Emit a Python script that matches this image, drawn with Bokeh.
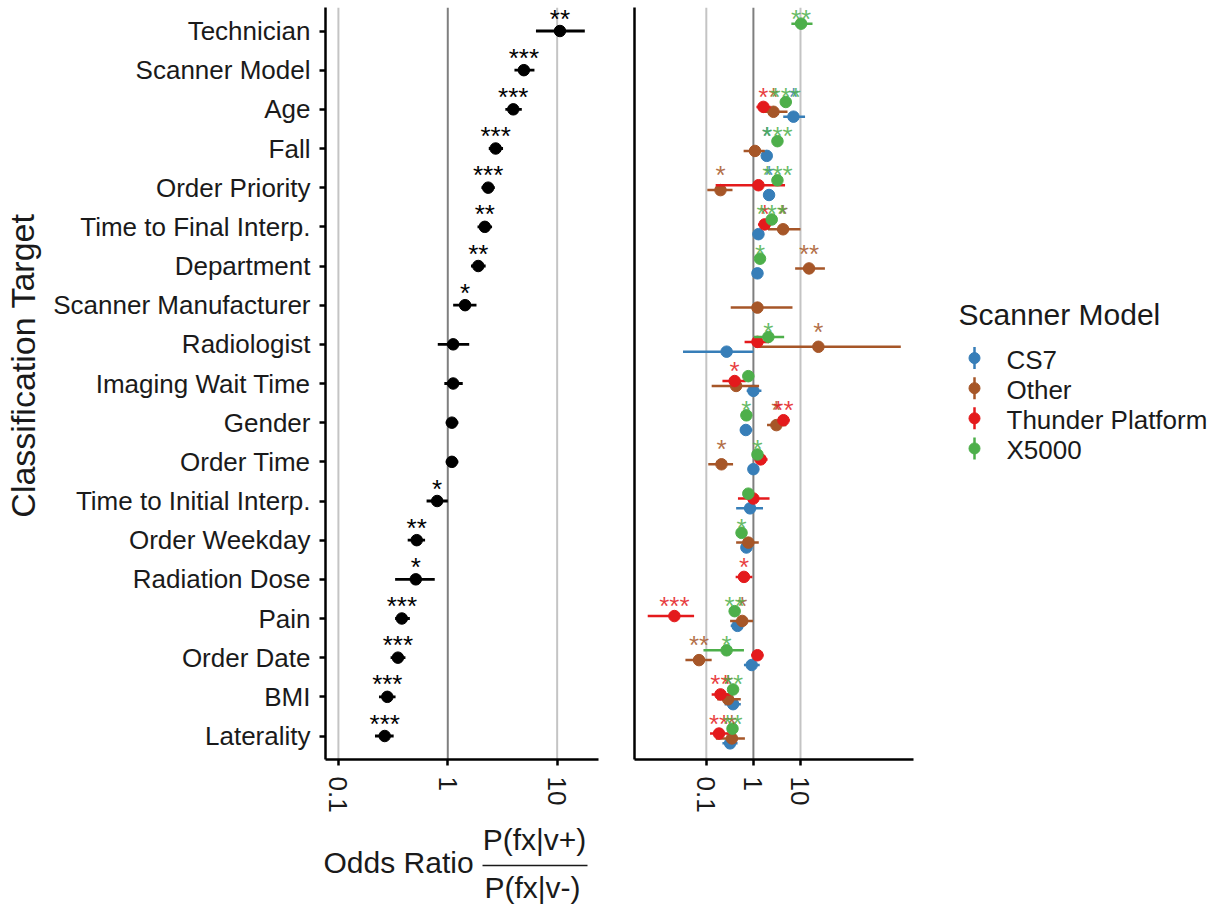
import math
from bokeh.plotting import figure
from bokeh.models import ColumnDataSource, Range1d, FixedTicker, CustomJSTickFormatter, Span
from bokeh.layouts import row, column
from bokeh.transform import dodge
from bokeh.core.properties import value
from bokeh.embed import file_html
from bokeh.resources import INLINE

nan = float("nan")

# ---------------- data ----------------
categories = ["Technician", "Scanner Model", "Age", "Fall", "Order Priority",
              "Time to Final Interp.", "Department", "Scanner Manufacturer",
              "Radiologist", "Imaging Wait Time", "Gender", "Order Time",
              "Time to Initial Interp.", "Order Weekday", "Radiation Dose",
              "Pain", "Order Date", "BMI", "Laterality"]

overall_or = [10.6, 4.96, 3.97, 2.74, 2.34, 2.18, 1.90, 1.44, 1.12, 1.12, 1.09,
              1.09, 0.80, 0.52, 0.51, 0.38, 0.35, 0.28, 0.265]
overall_lo = [6.4, 4.07, 3.36, 2.37, 2.03, 1.87, 1.63, 1.12, 0.81, 0.93, 0.96,
              0.96, 0.64, 0.43, 0.33, 0.33, 0.30, 0.235, 0.216]
overall_hi = [17.9, 6.2, 4.75, 3.2, 2.69, 2.54, 2.22, 1.83, 1.57, 1.37, 1.25,
              1.25, 1.0, 0.62, 0.76, 0.45, 0.41, 0.333, 0.32]
overall_sig = ["**", "***", "***", "***", "***", "**", "**", "*", "", "", "",
               "", "*", "**", "*", "***", "***", "***", "***"]

models = ["CS7", "Other", "Thunder Platform", "X5000"]
model_colors = ["#377EB8", "#A65628", "#E41A1C", "#4DAF4A"]

cs7_or = [nan, nan, 7.1, 1.92, 2.15, 1.28, 1.22, nan, 0.27, 1.0, 0.69, 1.0, 0.85, 0.71, nan, 0.46, 0.92, 0.37, 0.32]
cs7_lo = [nan, nan, 4.3, 1.6, 1.75, 1.0, 0.95, nan, 0.032, 0.72, 0.52, 0.81, 0.43, 0.56, nan, 0.33, 0.63, 0.245, 0.22]
cs7_hi = [nan, nan, 12.5, 2.35, 2.65, 1.65, 1.6, nan, 1.0, 1.48, 0.95, 1.28, 1.6, 0.95, nan, 0.61, 1.36, 0.54, 0.46]
cs7_sig = ["", "", "*", "*", "*", "", "", "", "", "", "", "", "", "", "", "", "", "", ""]

other_or = [nan, nan, 2.67, 1.08, 0.20, 4.27, 15.2, 1.22, 24.0, 0.43, 3.08, 0.21, nan, 0.78, nan, 0.58, 0.07, 0.29, 0.35]
other_lo = [nan, nan, 1.55, 0.62, 0.105, 2.04, 7.7, 0.33, 1.1, 0.13, 1.95, 0.11, nan, 0.43, nan, 0.32, 0.036, 0.17, 0.16]
other_hi = [nan, nan, 5.3, 1.74, 0.36, 10.0, 33.0, 6.76, 1350.0, 1.32, 5.0, 0.37, nan, 1.3, nan, 0.98, 0.13, 0.54, 0.66]
other_sig = ["", "", "*", "", "*", "*", "**", "", "*", "", "*", "*", "", "", "", "*", "**", "*", "*"]

thunder_or = [nan, nan, 1.63, nan, 1.28, 1.74, nan, nan, 1.22, 0.40, 4.35, 1.43, 1.0, nan, 0.63, 0.021, 1.22, 0.20, 0.186]
thunder_lo = [nan, nan, 1.16, nan, 0.158, 1.25, nan, nan, 0.65, 0.22, 3.3, 1.05, 0.47, nan, 0.42, 0.0057, 0.9, 0.13, 0.12]
thunder_hi = [nan, nan, 2.33, nan, 4.7, 2.4, nan, nan, 2.15, 0.69, 5.9, 2.0, 2.2, nan, 0.95, 0.055, 1.63, 0.33, 0.30]
thunder_sig = ["", "", "*", "", "", "*", "", "", "", "*", "**", "", "", "", "*", "***", "", "**", "**"]

x5000_or = [10.3, nan, 4.87, 3.24, 3.24, 2.45, 1.38, nan, 2.08, 0.78, 0.71, 1.22, 0.78, 0.56, nan, 0.40, 0.27, 0.37, 0.36]
x5000_lo = [6.4, nan, 4.2, 2.8, 2.8, 2.1, 1.2, nan, 1.03, 0.68, 0.62, 1.05, 0.68, 0.49, nan, 0.35, 0.087, 0.32, 0.31]
x5000_hi = [18.0, nan, 5.6, 3.7, 3.7, 2.85, 1.6, nan, 4.5, 0.9, 0.82, 1.4, 0.9, 0.64, nan, 0.46, 0.63, 0.43, 0.42]
x5000_sig = ["**", "", "***", "***", "***", "***", "*", "", "*", "", "*", "*", "", "*", "", "**", "*", "**", "**"]

ref_lines = [0.1, 1, 10]
ref_colors = ["#c4c4c4", "#7f7f7f", "#c4c4c4"]
x_ticks = [0.1, 1, 10]

y_title = "Classification Target"
legend_title = "Scanner Model"
x_title = "Odds Ratio"
x_title_num = "P(fx|v+)"
x_title_den = "P(fx|v-)"

# ---------------- styling ----------------
FONT = "Liberation Sans"
TXT = "#1a1a1a"
n = len(categories)
pos = [n - i for i in range(n)]  # top row highest
star_offset = 0.318

model_data = [
    (cs7_or, cs7_lo, cs7_hi, cs7_sig),
    (other_or, other_lo, other_hi, other_sig),
    (thunder_or, thunder_lo, thunder_hi, thunder_sig),
    (x5000_or, x5000_lo, x5000_hi, x5000_sig),
]
dodge_offsets = [-0.1875, -0.0625, 0.0625, 0.1875]

tick_fmt = CustomJSTickFormatter(code="return String(Number(tick.toPrecision(6)));")


def style_axes(p):
    for ax in (p.xaxis[0], p.yaxis[0]):
        ax.axis_line_width = 2.5
        ax.axis_line_color = "black"
        ax.major_tick_line_width = 2.5
        ax.major_tick_line_color = "black"
        ax.major_tick_out = 6
        ax.major_tick_in = 0
        ax.minor_tick_line_color = None
        ax.major_label_text_font = FONT
        ax.major_label_text_font_size = "26px"
        ax.major_label_text_color = TXT
    p.xaxis[0].ticker = FixedTicker(ticks=x_ticks, minor_ticks=[])
    p.xaxis[0].formatter = tick_fmt
    p.xaxis[0].major_label_orientation = "vertical"
    p.xaxis[0].major_label_standoff = 11
    p.grid.visible = False
    p.outline_line_color = None
    for v, c in zip(ref_lines, ref_colors):
        p.add_layout(Span(location=v, dimension="height", line_color=c,
                          line_width=2, level="underlay"))


def blank(width, height, xr, yr):
    f = figure(width=width, height=height, x_range=xr, y_range=yr,
               output_backend="svg", toolbar_location=None, min_border=0,
               x_axis_type=None, y_axis_type=None)
    f.outline_line_color = None
    f.grid.visible = False
    return f


# ---------------- y title panel (frame aligned to 7..761) ----------------
ytp = blank(50, 815, Range1d(0, 50), Range1d(7, 761))
ytp.text(x=[22], y=[768 - 366], text=[y_title], angle=[math.pi / 2],
         text_align="center", text_baseline="alphabetic",
         text_font=value(FONT), text_font_size="34px", text_color=TXT)

# ---------------- left panel ----------------
left = figure(width=558, height=815, x_axis_type="log",
              x_range=Range1d(10 ** -1.118, 10 ** 1.378),
              y_range=Range1d(0.4, n + 0.6),
              output_backend="svg", toolbar_location=None,
              min_border_left=273, min_border_right=10,
              min_border_top=7, min_border_bottom=54)
style_axes(left)
left.yaxis[0].ticker = FixedTicker(ticks=pos, minor_ticks=[])
left.yaxis[0].formatter = CustomJSTickFormatter(
    args=dict(labels=categories, n=n),
    code="const i = n - Math.round(tick); return (i >= 0 && i < labels.length) ? labels[i] : '';")
left.yaxis[0].major_label_standoff = 9

src_all = ColumnDataSource(dict(cat=categories, pos=pos, odds=overall_or,
                                lo=overall_lo, hi=overall_hi, sig=overall_sig))
left.segment(x0="lo", x1="hi", y0="pos", y1="pos", source=src_all,
             line_color="black", line_width=2.8)
left.scatter(x="odds", y="pos", source=src_all, size=11.5,
             fill_color="black", line_color="black")
left.text(x="odds", y=dodge("pos", star_offset, range=left.y_range), text="sig",
          source=src_all, text_align="center", text_baseline="alphabetic",
          text_font=value(FONT), text_font_size="26px", text_color="black")

# ---------------- right panel ----------------
right = figure(width=307, height=815, x_axis_type="log",
               x_range=Range1d(10 ** -2.525, 10 ** 3.40),
               y_range=Range1d(0.4, n + 0.6),
               output_backend="svg", toolbar_location=None,
               min_border_left=26, min_border_right=2,
               min_border_top=7, min_border_bottom=54)
style_axes(right)
right.yaxis[0].ticker = FixedTicker(ticks=[], minor_ticks=[])
right.yaxis[0].major_tick_line_color = None
right.yaxis[0].major_label_text_font_size = "0px"

sources = []
for (o, lo, hi, sig), off, col in zip(model_data, dodge_offsets, model_colors):
    src = ColumnDataSource(dict(pos=pos, odds=o, lo=lo, hi=hi, sig=sig))
    sources.append((src, col))
    yd = dodge("pos", off, range=right.y_range)
    right.segment(x0="lo", x1="hi", y0=yd, y1=yd, source=src,
                  line_color=col, line_width=2.5)
    right.scatter(x="odds", y=yd, source=src, size=11.5,
                  fill_color=col, line_color=col)
for src, col in sources:
    right.text(x="odds", y=dodge("pos", star_offset, range=right.y_range), text="sig",
               source=src, text_align="center", text_baseline="alphabetic",
               text_font=value(FONT), text_font_size="26px", text_color=col,
               text_alpha=0.85)

# ---------------- legend panel (data = page pixels) ----------------
leg = blank(300, 815, Range1d(915, 1215), Range1d(761, 7))
leg.text(x=[958], y=[315], text=[legend_title], text_align="left",
         text_baseline="alphabetic", text_font=value(FONT),
         text_font_size="30px", text_color=TXT)
item_y = [360.5 + 30.2 * k for k in range(len(models))]
leg_src = ColumnDataSource(dict(model=models, color=model_colors, y=item_y,
                                ky=[v - 2 for v in item_y],
                                y0=[v - 13 for v in item_y], y1=[v + 9 for v in item_y]))
leg.segment(x0=974, x1=974, y0="y0", y1="y1", source=leg_src, line_color="color", line_width=2.5)
leg.scatter(x=974, y="ky", source=leg_src, size=11, fill_color="color", line_color="color")
leg.text(x=1006, y="y", text="model", source=leg_src, text_align="left",
         text_baseline="alphabetic", text_font=value(FONT), text_font_size="26px",
         text_color=TXT)

# ---------------- x-axis title panel (data = page pixels) ----------------
bot = blank(1215, 94, Range1d(0, 1215), Range1d(909, 815))
bot.text(x=[323], y=[862], text=[x_title], text_align="left",
         text_baseline="alphabetic", text_font=value(FONT), text_font_size="30px",
         text_color=TXT)
bot.text(x=[534, 532], y=[839, 887], text=[x_title_num, x_title_den], text_align="center",
         text_baseline="alphabetic", text_font=value(FONT), text_font_size="30px",
         text_color=TXT)
bot.segment(x0=[482], x1=[587], y0=[865], y1=[865], line_color=TXT, line_width=1.5)

layout = column(row(ytp, left, right, leg), bot)
open("out.html", "w").write(file_html(layout, INLINE))
